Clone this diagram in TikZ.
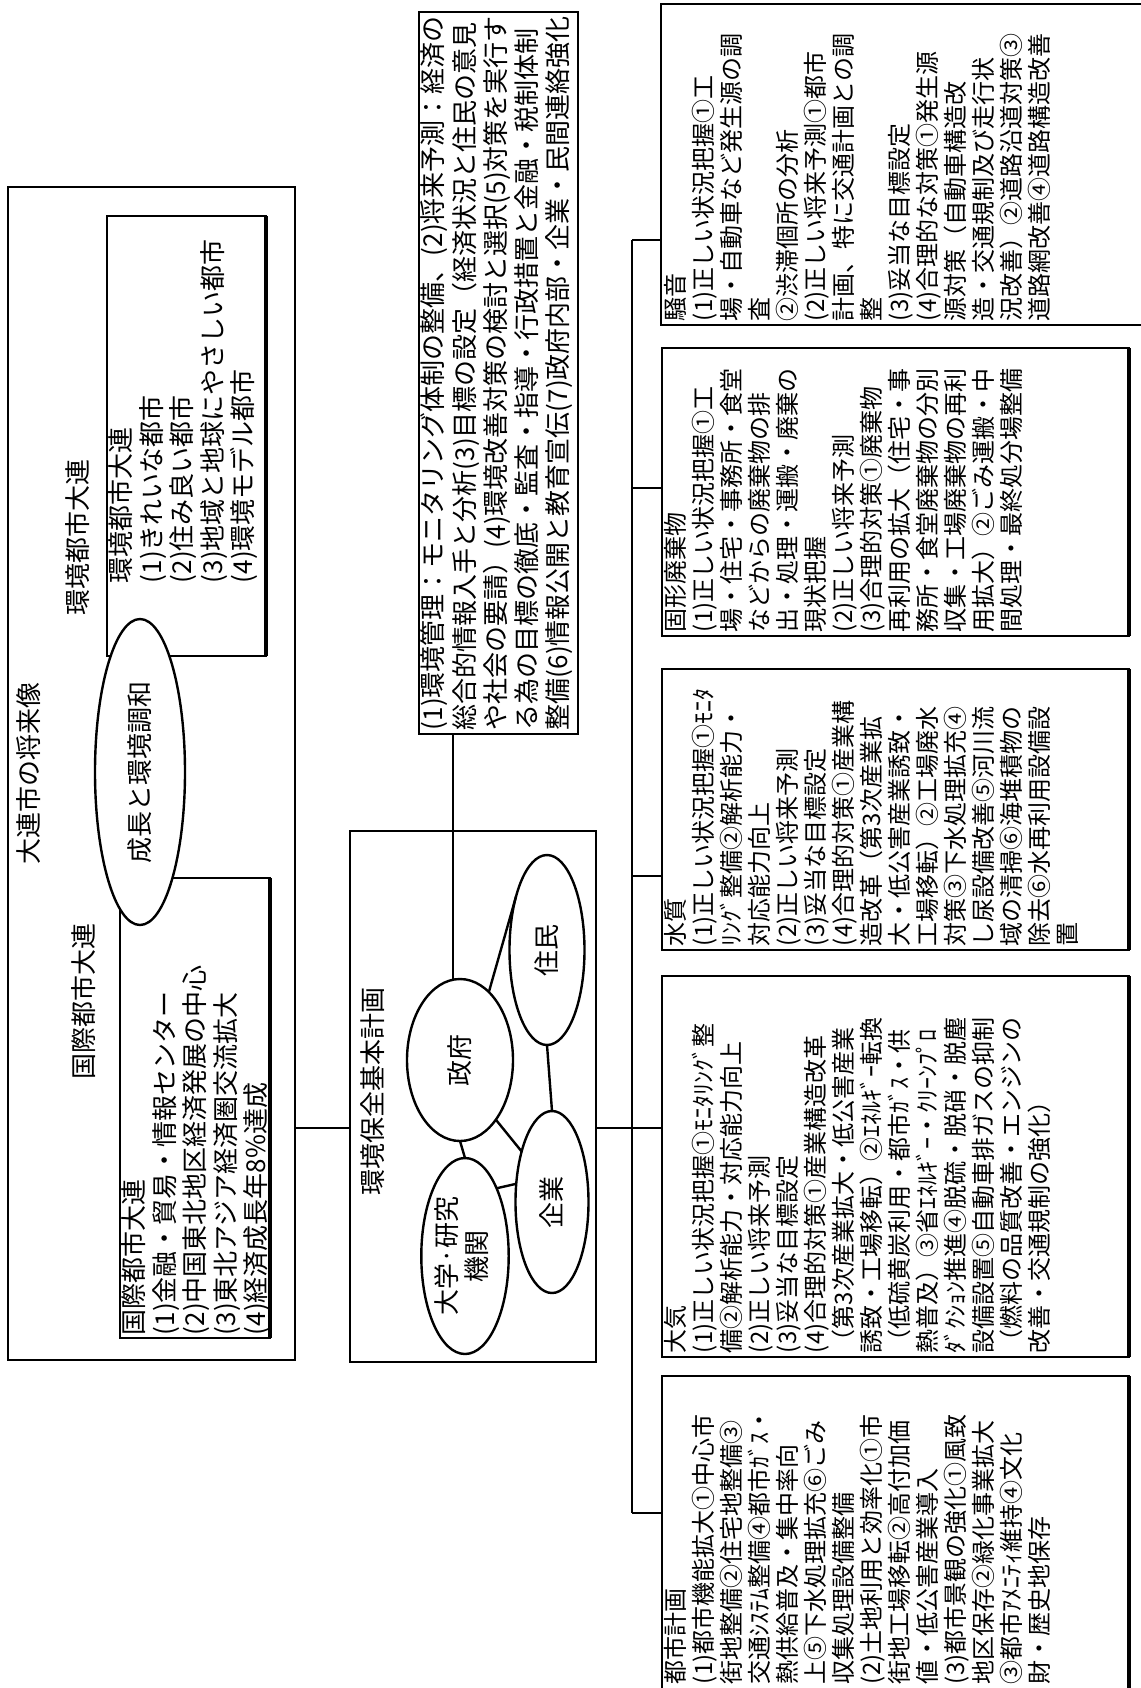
\documentclass[tikz,border=0pt]{standalone}
\usepackage{fontspec}
\usepackage{graphicx}
\setmainfont{Noto Sans CJK JP}
\usetikzlibrary{shapes.geometric}
\begin{document}
\begin{tikzpicture}[x=0.5pt,y=-0.5pt,
  every node/.style={inner sep=0pt, outer sep=0pt},
  box/.style={draw, rectangle, line width=1.2pt},
  ell/.style={draw, ellipse, line width=1.2pt, fill=white},
  lbl/.style={rotate=90, font=\fontsize{13}{15.5}\selectfont},
  txtL/.style={rotate=90, anchor=north west, align=left, font=\fontsize{13}{15.2}\selectfont},
  txtM/.style={rotate=90, anchor=north west, align=left, font=\fontsize{13}{15.6}\selectfont},
  txtR/.style={rotate=90, anchor=north west, align=left, font=\fontsize{12}{14}\selectfont},
  conn/.style={line width=1.2pt},
  heavy/.style={line width=2.2pt}]
\useasboundingbox (0,0) rectangle (1141,1688);
\fill[white] (0,0) rectangle (1141,1688);
\clip (0,0) rectangle (1141,1688);

% ---------- future image of Dalian ----------
\node[box, minimum width=143.5pt, minimum height=586.5pt] (outer) at (151.5,773.5) {};
\node[lbl] (ttl) at (29,773) {大連市の将来像};
\node[lbl] (envlbl) at (78,537) {環境都市大連};
\node[lbl] (intllbl) at (84,1001) {国際都市大連};
\node[box, minimum width=79.5pt, minimum height=220pt] (envc) at (186.5,436) {};
\node[box, minimum width=75pt, minimum height=230pt] (intl) at (195,1108) {};
\draw[heavy] (envc.north east) -- (envc.south east);
\draw[heavy] (intl.north east) -- (intl.south east);
\node[txtL] (envtxt) at (109,583) {環境都市大連\\(1)きれいな都市\\(2)住み良い都市\\(3)地域と地球にやさしい都市\\(4)環境モデル都市};
\node[txtL] (intltxt) at (122,1335) {国際都市大連\\(1)金融・貿易・情報センター\\(2)中国東北地区経済発展の中心\\(3)東北アジア経済圏交流拡大\\(4)経済成長年8\%達成};
\node[ell, minimum width=45pt, minimum height=153pt] (growth) at (140,772) {\rotatebox{90}{\fontsize{13}{15}\selectfont 成長と環境調和}};

% ---------- basic plan ----------
\node[box, minimum width=123pt, minimum height=265.5pt] (plan) at (473,1096.5) {};
\node[lbl] (planlbl) at (373,1091) {環境保全基本計画};
\node[ell, minimum width=53pt, minimum height=81pt] (gov) at (460,1060) {\rotatebox{90}{\fontsize{13}{15}\selectfont 政府}};
\node[ell, minimum width=37.5pt, minimum height=95pt] (res) at (547,950) {\rotatebox{90}{\fontsize{13}{15}\selectfont 住民}};
\node[ell, minimum width=36.5pt, minimum height=91pt] (ent) at (552,1202) {\rotatebox{90}{\fontsize{13}{15}\selectfont 企業}};
\node[ell, minimum width=43pt, minimum height=98pt] (uni) at (465,1256) {\rotatebox{90}{\fontsize{13}{15}\selectfont\begin{tabular}{@{}c@{}}大学·研究\\機関\end{tabular}}};
\draw[conn] (gov.67) -- (res.120);
\draw[conn] (res.south) -- (ent.north);
\draw[conn] (gov.-59) -- (ent.121);
\draw[conn] (gov.south) -- (uni.north);
\draw[conn] (uni.65) -- (ent.153);

% ---------- management ----------
\node[box, minimum width=79.5pt, minimum height=361pt] (mgmt) at (498.5,373) {};
\node[txtM] (mgmttxt) at (421,730) {(1)環境管理：モニタリング体制の整備、(2)将来予測：経済の\\総合的情報入手と分析(3)目標の設定（経済状況と住民の意見\\や社会の要請）(4)環境改善対策の検討と選択(5)対策を実行す\\る為の目標の徹底・監査・指導・行政措置と金融・税制体制\\整備(6)情報公開と教育宣伝(7)政府内部・企業・民間連絡強化};
\coordinate (gtop) at ([xshift=-3.5pt]gov.north);
\draw[conn] (mgmt.south -| gtop) -- (gtop);

% ---------- sector boxes ----------
\node[box, minimum width=249.5pt, minimum height=160.5pt] (noise) at (910.5,164.5) {};
\node[box, minimum width=233.5pt, minimum height=144pt] (waste) at (895.5,492) {};
\node[box, minimum width=233.5pt, minimum height=140.5pt] (water) at (895.5,809.5) {};
\node[box, minimum width=233.5pt, minimum height=190.5pt] (air) at (895.5,1166.5) {};
\node[box, minimum width=233.5pt, minimum height=167pt] (city) at (895.5,1543) {};
\draw[heavy] (waste.north east) -- (waste.south east);
\draw[heavy] (water.north east) -- (water.south east);
\draw[heavy] (air.north east) -- (air.south east);
\draw[heavy] (city.north east) -- (city.south east);

\node[txtR] (noisetxt) at (664,321) {騒音\\(1)正しい状況把握①工\\場・自動車など発生源の調\\査\\②渋滞個所の分析\\(2)正しい将来予測①都市\\計画、特に交通計画との調\\整\\(3)妥当な目標設定\\(4)合理的な対策①発生源\\源対策（自動車構造改\\造・交通規制及び走行状\\況改善）②道路沿道対策③\\道路網改善④道路構造改善};
\node[txtR] (wastetxt) at (664,632) {固形廃棄物\\(1)正しい状況把握①工\\場・住宅・事務所・食堂\\などからの廃棄物の排\\出・処理・運搬・廃棄の\\現状把握\\(2)正しい将来予測\\(3)合理的対策①廃棄物\\再利用の拡大（住宅・事\\務所・食堂廃棄物の分別\\収集・工場廃棄物の再利\\用拡大）②ごみ運搬・中\\間処理・最終処分場整備};
\node[txtR] (watertxt) at (664,946) {水質\\(1)正しい状況把握①ﾓﾆﾀ\\ﾘﾝｸﾞ整備②解析能力・\\対応能力向上\\(2)正しい将来予測\\(3)妥当な目標設定\\(4)合理的対策①産業構\\造改革（第3次産業拡\\大・低公害産業誘致・\\工場移転）②工場廃水\\対策③下水処理拡充④\\し尿設備改善⑤河川流\\域の清掃⑥海堆積物の\\除去⑥水再利用設備設\\置};
\node[txtR] (airtxt) at (664,1353) {大気\\(1)正しい状況把握①ﾓﾆﾀﾘﾝｸﾞ整\\備②解析能力・対応能力向上\\(2)正しい将来予測\\(3)妥当な目標設定\\(4)合理的対策①産業構造改革\\（第3次産業拡大・低公害産業\\誘致・工場移転）②ｴﾈﾙｷﾞｰ転換\\（低硫黄炭利用・都市ｶﾞｽ・供\\熱普及）③省ｴﾈﾙｷﾞｰ・ｸﾘｰﾝﾌﾟﾛ\\ﾀﾞｸｼｮﾝ推進④脱硫・脱硝・脱塵\\設備設置⑤自動車排ガスの抑制\\（燃料の品質改善・エンジンの\\改善・交通規制の強化）};
\node[txtR] (citytxt) at (664,1684) {都市計画\\(1)都市機能拡大①中心市\\街地整備②住宅地整備③\\交通ｼｽﾃﾑ整備④都市ｶﾞｽ・\\熱供給普及・集中率向\\上⑤下水処理拡充⑥ごみ\\収集処理設備整備\\(2)土地利用と効率化①市\\街地工場移転②高付加価\\値・低公害産業導入\\(3)都市景観の強化①風致\\地区保存②緑化事業拡大\\③都市ｱﾒﾆﾃｨ維持④文化\\財・歴史地保存};

% ---------- connectors ----------
\coordinate (t1) at (632,240);
\coordinate (t2) at (632,488);
\coordinate (t3) at (632,876);
\coordinate (t4) at (632,1128);
\coordinate (t5) at (632,1513);
\draw[conn] (t1) -- (t5);
\draw[conn] (t1) -- (t1 -| noise.west);
\draw[conn] (t2) -- (t2 -| waste.west);
\draw[conn] (t3) -- (t3 -| water.west);
\draw[conn] (t4) -- (t4 -| air.west);
\draw[conn] (t5) -- (t5 -| city.west);
\draw[conn] (plan.east |- t4) -- (t4);
\draw[conn] (outer.east |- t4) -- (plan.west |- t4);
\end{tikzpicture}
\end{document}
